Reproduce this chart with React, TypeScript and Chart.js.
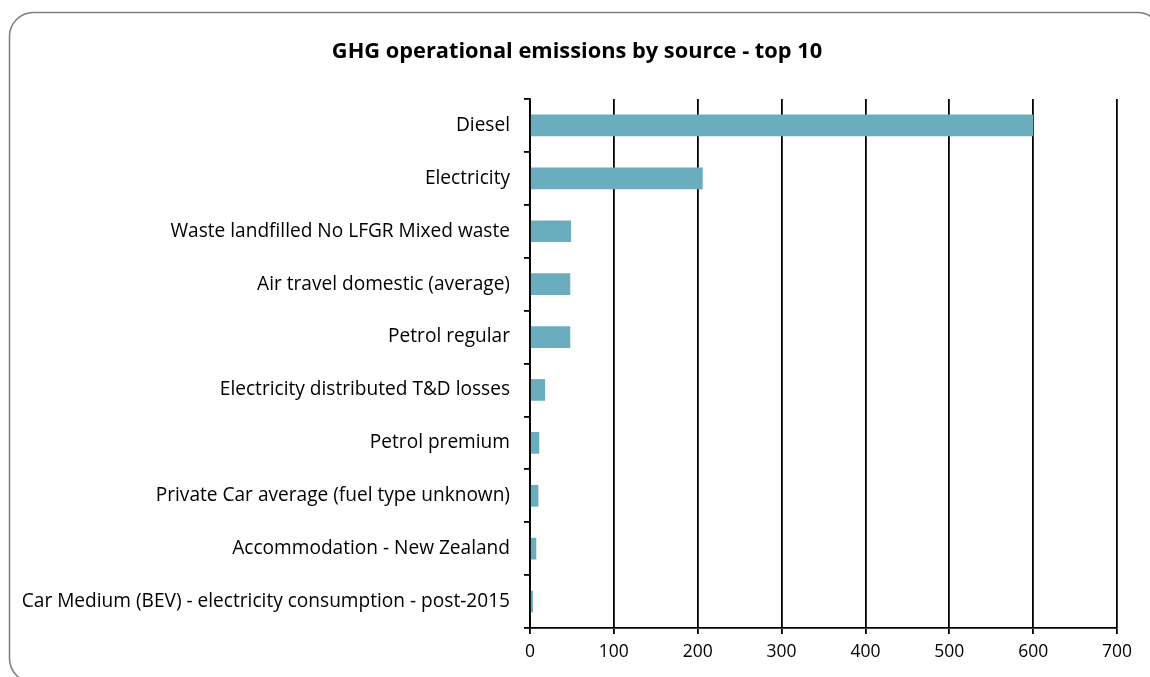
import React, { useEffect, useRef } from "react";
import { Chart, registerables } from "chart.js";

Chart.register(...registerables);

const chartTitle = "GHG operational emissions by source - top 10";

const categories = [
  "Diesel",
  "Electricity",
  "Waste landfilled No LFGR Mixed waste",
  "Air travel domestic (average)",
  "Petrol regular",
  "Electricity distributed T&D losses",
  "Petrol premium",
  "Private Car average (fuel type unknown)",
  "Accommodation - New Zealand",
  "Car Medium (BEV) - electricity consumption - post-2015",
];

const emissions = [600, 206, 49, 48, 48, 18, 11, 10, 7.5, 3.5];

const xMin = 0;
const xMax = 700;
const xStep = 100;

const FONT = "'Open Sans', Lato, sans-serif";

const framePlugin = {
  id: "frame",
  beforeDraw(chart: any) {
    const ctx = chart.ctx;
    const x = 9.5, y = 12.5, w = 1152, h = 670, r = 24;
    ctx.save();
    ctx.fillStyle = "#ffffff";
    ctx.fillRect(0, 0, chart.width, chart.height);
    ctx.beginPath();
    ctx.moveTo(x + r, y);
    ctx.lineTo(x + w - r, y);
    ctx.arcTo(x + w, y, x + w, y + r, r);
    ctx.lineTo(x + w, y + h - r);
    ctx.arcTo(x + w, y + h, x + w - r, y + h, r);
    ctx.lineTo(x + r, y + h);
    ctx.arcTo(x, y + h, x, y + h - r, r);
    ctx.lineTo(x, y + r);
    ctx.arcTo(x, y, x + r, y, r);
    ctx.closePath();
    ctx.strokeStyle = "#808080";
    ctx.lineWidth = 1.6;
    ctx.stroke();
    ctx.restore();
  },
  afterDraw(chart: any) {
    const ctx = chart.ctx;
    ctx.save();
    ctx.font = `bold 21.8px ${FONT}`;
    ctx.fillStyle = "#000";
    ctx.textAlign = "center";
    ctx.textBaseline = "middle";
    ctx.fillText(chartTitle, 577, 52);
    ctx.restore();
  },
};

export default function App() {
  const ref = useRef<HTMLCanvasElement | null>(null);

  useEffect(() => {
    if (!ref.current) return;
    const chart = new Chart(ref.current, {
      type: "bar",
      data: {
        labels: categories,
        datasets: [
          {
            data: emissions,
            backgroundColor: "#6aadbe",
            borderWidth: 0,
            categoryPercentage: 1,
            barPercentage: 0.41,
          },
        ],
      },
      plugins: [framePlugin],
      options: {
        indexAxis: "y",
        responsive: false,
        animation: false,
        layout: { padding: { left: 0, right: 33, top: 99, bottom: 0 } },
        plugins: {
          legend: { display: false },
          tooltip: { enabled: false },
          title: { display: false },
        },
        scales: {
          x: {
            type: "linear",
            min: xMin,
            max: xMax,
            ticks: {
              stepSize: xStep,
              color: "#000",
              font: { family: FONT, size: 17.5 },
              padding: 8,
            },
            grid: {
              color: "#000",
              lineWidth: 1.8,
              tickLength: 6,
              drawTicks: true,
            },
            border: { display: true, color: "#000", width: 1.8 },
            afterFit: (s: any) => {
              s.height = 49;
            },
          },
          y: {
            type: "category",
            ticks: {
              color: "#000",
              font: { family: FONT, size: 19.1 },
              padding: 14,
            },
            grid: {
              offset: true,
              drawOnChartArea: false,
              color: "#000",
              lineWidth: 1.8,
              tickLength: 6,
            },
            border: { display: true, color: "#000", width: 1.8 },
            afterFit: (s: any) => {
              s.width = 530;
            },
          },
        },
      },
    });
    return () => chart.destroy();
  }, []);

  return (
    <div style={{ position: "fixed", left: 0, top: 0, width: 1150, height: 677 }}>
      <canvas ref={ref} width={1150} height={677} />
    </div>
  );
}
